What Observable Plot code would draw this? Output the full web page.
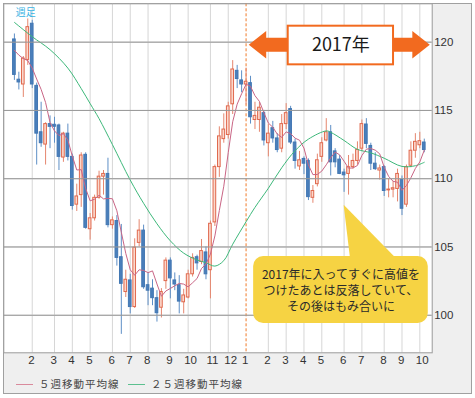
<!DOCTYPE html>
<html><head><meta charset="utf-8">
<script src="https://cdn.jsdelivr.net/npm/d3@7"></script>
<script src="https://cdn.jsdelivr.net/npm/@observablehq/plot@0.6"></script>
<style>
body{margin:0;background:#fff;width:475px;height:398px;overflow:hidden;position:relative;font-family:"Liberation Sans",Arial,sans-serif}
#panel{position:absolute;left:3px;top:3px;width:469px;height:391px;background:#efefef;border:1px solid #a0a0a0;box-sizing:border-box}
#chart{position:absolute;left:0;top:0}
.lg{position:absolute;top:377px;font:10.5px "Noto Sans CJK JP",sans-serif;color:#444;line-height:14px;white-space:nowrap;letter-spacing:1px}
.ln{position:absolute;top:384px;height:1px;width:17px}
</style></head>
<body>
<div id="panel"></div>
<div id="chart"></div>
<div class="ln" style="left:16px;background:#d98a9c"></div>
<div class="lg" style="left:39px">５週移動平均線</div>
<div class="ln" style="left:128px;background:#5cc08f"></div>
<div class="lg" style="left:151px">２５週移動平均線</div>
<script>
// weekly candles, week 0 = first week of Jan 2016
const open  = [120.2,117.25,116.9,118.7,121.35,116.8,113.4,112.5,114.0,113.95,113.9,111.55,113.3,111.6,108.1,108.8,111.75,106.3,107.1,108.6,110.15,110.35,106.6,106.9,104.25,101.7,102.55,100.6,105.3,106.2,102.2,101.95,101.25,100.55,102.5,104.0,102.55,102.2,100.95,101.3,103.0,104.25,103.9,104.6,103.3,106.8,110.85,112.9,113.2,115.45,117.9,117.2,116.9,117.0,114.3,114.3,114.8,112.6,113.7,112.95,112.2,114.0,115.1,112.65,110.9,111.45,111.3,108.6,109.6,111.6,112.8,113.4,112.0,111.4,110.45,110.35,110.85,111.3,112.2,113.97,112.4,111.1,110.6,110.85,109.15,109.2,109.25,109.9,108.1,110.95,112.05,112.45,112.65];
const high  = [120.6,117.8,118.95,121.7,121.6,117.0,115.6,114.1,114.6,114.5,114.0,113.4,114.0,111.8,109.6,111.9,111.9,107.45,108.8,110.55,110.6,111.5,107.2,107.3,106.65,103.3,103.0,105.6,107.0,106.6,103.1,102.6,101.8,101.95,104.2,104.2,103.1,102.9,101.9,103.3,104.5,104.4,105.55,105.0,106.9,111.0,113.8,114.75,115.6,118.65,118.3,117.9,118.1,117.5,115.6,115.6,115.0,114.0,114.2,113.3,114.7,115.5,115.3,112.9,112.0,111.6,111.45,109.5,111.8,113.0,114.4,113.9,112.2,111.7,110.7,111.7,111.8,112.7,114.3,114.4,112.6,111.9,111.0,110.95,110.0,109.8,110.7,110.2,111.0,112.7,113.3,113.4,112.9];
const low   = [117.2,116.5,115.95,118.3,116.6,111.0,112.3,111.0,112.2,112.6,110.6,111.2,111.3,107.7,107.6,107.9,106.3,105.5,106.9,108.5,108.8,106.4,106.3,103.6,98.6,101.3,100.1,100.5,105.0,101.9,100.7,100.7,99.5,99.8,101.9,101.2,101.8,100.1,100.1,101.2,102.8,103.3,103.7,102.6,101.2,106.5,110.1,112.6,112.9,114.7,116.6,116.3,115.4,114.0,113.6,113.4,112.4,111.6,112.6,111.9,111.9,113.6,112.5,110.7,110.6,110.3,108.4,108.2,109.4,111.2,112.7,110.2,110.8,110.3,109.0,108.8,110.7,111.0,112.0,112.2,110.6,110.6,109.9,108.7,108.6,108.6,108.3,107.3,107.9,110.8,111.5,112.2,111.9];
const close = [117.6,117.05,118.8,121.1,116.9,113.3,112.6,114.0,113.8,113.8,111.6,113.3,111.6,108.0,108.7,111.7,106.4,107.1,108.6,110.15,110.35,106.6,106.95,104.2,102.3,102.6,100.6,104.95,106.2,102.05,101.8,101.25,100.15,101.7,104.0,102.7,102.25,101.0,101.45,103.0,104.2,103.8,104.7,103.0,106.7,110.85,113.1,113.6,115.3,118.0,117.3,116.9,117.1,114.5,114.6,115.2,112.8,113.3,112.95,112.1,114.0,114.8,112.65,111.3,111.35,111.1,108.65,109.1,111.35,112.6,113.4,111.2,111.2,110.35,110.25,110.85,111.3,112.1,114.0,112.55,111.1,110.7,110.75,109.1,109.2,109.3,110.35,107.8,110.85,112.05,112.7,112.75,112.1];
const ma5 = [119.4,119.05,118.8,118.65,118.1,117.3,116.54,115.58,114.12,113.5,113.16,113.3,112.82,111.66,110.64,110.66,109.28,108.38,108.5,108.79,108.52,108.56,108.53,107.65,106.08,104.53,103.33,102.93,103.33,103.28,103.12,103.25,102.29,101.39,101.78,101.96,102.16,102.33,102.28,102.08,102.38,102.69,103.43,103.74,104.48,105.81,107.67,109.45,111.91,114.17,115.46,116.22,116.92,116.76,116.08,115.66,114.84,114.08,113.77,113.27,113.03,113.43,113.3,112.97,112.82,112.24,111.01,110.3,110.31,110.56,111.02,111.53,111.95,111.75,111.28,110.77,110.79,110.97,111.7,112.16,112.21,112.09,111.82,110.84,110.17,109.81,109.74,109.15,109.5,110.07,110.75,111.23,112.09];
const ma25Week  = [0,4,8,12,15,17,19,22,26,29,32,35,38,41,43,45,47,49,52,54,57,60,63,66,70,71,74,77,80,83,87,90,92];
const ma25Value = [121.45,120.4,119.45,118.1,116.6,115.5,114.4,112.5,109.9,108.2,106.7,105.45,104.55,104.05,103.85,103.6,104.0,105.2,106.85,107.9,109.3,110.8,112.05,112.9,113.5,113.4,112.8,112.15,111.9,111.5,110.9,110.95,111.2];
const monthTickWeek  = [4,9,13,17,22,26,30,35,39,44,48,52,57,61,65,69,74,78,83,87,91];
const monthTickLabel = ["2","3","4","5","6","7","8","9","10","11","12","1","2","3","4","5","6","7","8","9","10"];
const yTicks = [100,105,110,115,120];
const yearStartWeek = 52;
const yearLabel = "2017年";
const calloutText = "2017年に入ってすぐに高値を\nつけたあとは反落していて、\nその後はもみ合いに";
const cornerLabel = "週足";

// annotation geometry in data units (week, price)
const arrow = {x0: 52.6, x1: 93.24, y: 119.81, head: 1.0, shaft: 0.51, len: 3.92};
const yearBox = {x1: 61.46, x2: 85.1, y1: 118.34, y2: 121.17};
const callout = {x1: 53.7, x2: 92.9, y1: 99.4, y2: 104.3, tip: [73.9, 108.1], base: [75.4, 86.2]};

const candles = open.map((o, i) => ({i, open: o, high: high[i], low: low[i], close: close[i]}));
const up = d => d.close >= d.open;
const bodyLo = d => Math.abs(d.close - d.open) < 0.06 ? (d.open + d.close) / 2 - 0.03 : d.open;
const bodyHi = d => Math.abs(d.close - d.open) < 0.06 ? (d.open + d.close) / 2 + 0.03 : d.close;
const ma5Pts = ma5.map((v, i) => ({i, v}));
const ma25Pts = ma25Week.map((w, k) => ({i: w, v: ma25Value[k]}));
const labelOf = new Map(monthTickWeek.map((w, k) => [w, monthTickLabel[k]]));
const a = arrow;
const arrowPts = [
  [a.x0, a.y], [a.x0 + a.len, a.y + a.head], [a.x0 + a.len, a.y + a.shaft], [a.x1 - a.len, a.y + a.shaft],
  [a.x1 - a.len, a.y + a.head], [a.x1, a.y], [a.x1 - a.len, a.y - a.head], [a.x1 - a.len, a.y - a.shaft],
  [a.x0 + a.len, a.y - a.shaft], [a.x0 + a.len, a.y - a.head]
];
const pointerPts = [[callout.base[0], callout.y2 - 0.3], callout.tip, [callout.base[1], callout.y2 - 0.3]];

const chart = Plot.plot({
  width: 475, height: 375,
  marginLeft: 3.3, marginRight: 43.3, marginTop: 3.3, marginBottom: 22.7,
  style: {background: "transparent", fontFamily: "Liberation Sans, Arial, sans-serif", fontSize: "11.5px", color: "#333", overflow: "visible"},
  x: {type: "linear", domain: [-2.38, 93.78], axis: null},
  y: {domain: [97.25, 122.81], axis: null},
  marks: [
    Plot.frame({fill: "white", stroke: "none"}),
    Plot.ruleY(yTicks, {stroke: "#c9c9c9"}),
    Plot.ruleX(monthTickWeek.filter(w => w !== yearStartWeek), {stroke: "#d6d6d6"}),
    Plot.ruleX([yearStartWeek], {stroke: "#f07a2a", strokeDasharray: "3,2"}),
    Plot.ruleX(candles, {x: "i", y1: "low", y2: "high", stroke: d => up(d) ? "#e5866e" : "#5e8fc6", strokeWidth: 1}),
    Plot.rect(candles, {x1: d => d.i - 0.3, x2: d => d.i + 0.3, y1: bodyLo, y2: bodyHi,
      fill: d => up(d) ? "#fbd8cc" : "#4a7fbb", stroke: d => up(d) ? "#e0694e" : "#4277b3", strokeWidth: 1}),
    Plot.line(ma25Pts, {x: "i", y: "v", stroke: "#3db87a", strokeWidth: 1, curve: "catmull-rom"}),
    Plot.line(ma5Pts, {x: "i", y: "v", stroke: "#c96585", strokeWidth: 1}),
    Plot.frame({stroke: "#9a9a9a"}),
    Plot.tickY(yTicks, {frameAnchor: "right", stroke: "#9a9a9a"}),
    Plot.text(yTicks, {y: d => d, text: d => String(d), frameAnchor: "right", textAnchor: "start", dx: 2, fill: "#333"}),
    Plot.text(monthTickWeek, {x: d => d, text: d => labelOf.get(d), frameAnchor: "bottom", dy: 11, dx: -4, textAnchor: "start", fill: "#333"}),
    Plot.text([cornerLabel], {frameAnchor: "top-left", dx: 12, dy: 5, lineAnchor: "top", textAnchor: "start", fill: "#3ab2e2", fontSize: 10, fontFamily: "Noto Sans CJK JP"}),
    Plot.line(arrowPts, {x: d => d[0], y: d => d[1], fill: "#f26a1f", stroke: "none", curve: "linear-closed"}),
    Plot.rect([yearBox], {x1: "x1", x2: "x2", y1: "y1", y2: "y2", fill: "white", stroke: "#f26a1f", strokeWidth: 2}),
    Plot.text([yearLabel], {x: (yearBox.x1 + yearBox.x2) / 2, y: (yearBox.y1 + yearBox.y2) / 2, fontSize: 18, fill: "#1a1a1a", fontFamily: "Noto Sans CJK JP"}),
    Plot.line(pointerPts, {x: d => d[0], y: d => d[1], fill: "#f6d343", stroke: "none", curve: "linear-closed"}),
    Plot.rect([callout], {x1: "x1", x2: "x2", y1: "y1", y2: "y2", fill: "#f6d343", rx: 10}),
    Plot.text([calloutText], {x: (callout.x1 + callout.x2) / 2, y: (callout.y1 + callout.y2) / 2, fontSize: 12, lineHeight: 1.33, fill: "#2a2a2a", fontFamily: "Noto Sans CJK JP"})
  ]
});
document.getElementById("chart").appendChild(chart);
</script>
</body></html>
